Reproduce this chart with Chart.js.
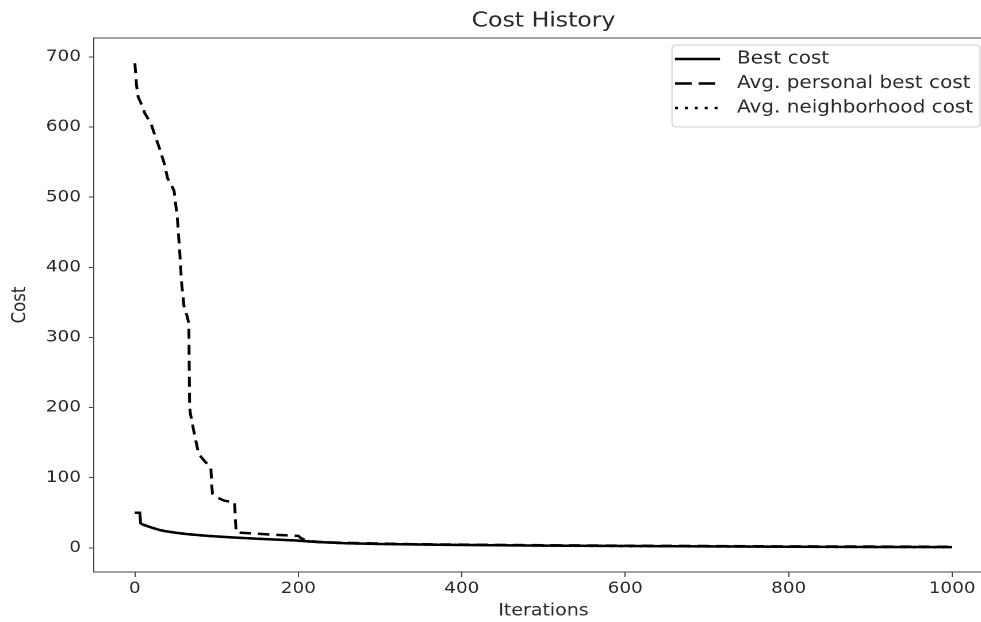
<!DOCTYPE html>
<html><head><meta charset="utf-8">
<script src="https://cdn.jsdelivr.net/npm/chart.js@4/dist/chart.umd.min.js"></script>
<style>
html,body{margin:0;padding:0;background:#fff;overflow:hidden;width:981px;height:622px;}
#wrap{position:absolute;left:0;top:0;width:870px;height:622px;transform:scaleX(1.15);transform-origin:0 0;}
</style></head><body>
<div id="wrap"><canvas id="c" width="870" height="622"></canvas></div>
<script>
const titleText = 'Cost History';
const xLabel = 'Iterations';
const yLabel = 'Cost';
const seriesNames = ['Best cost', 'Avg. personal best cost', 'Avg. neighborhood cost'];
const xTicks = [0, 200, 400, 600, 800, 1000];
const yTicks = [0, 100, 200, 300, 400, 500, 600, 700];

const bestIter = [0, 6, 7, 10, 15, 20, 30, 36, 50, 64, 89, 121, 150, 197, 220, 258, 300, 386, 500, 600, 700, 800, 900, 1000];
const bestCost = [50, 50, 35, 33, 31, 29, 25.5, 24, 21.5, 19.5, 17, 14.7, 13, 10.5, 8.5, 6.5, 5.5, 4.2, 3.2, 2.5, 2, 1.5, 1.2, 1];

const pbestIter = [0, 2, 4, 9, 12, 20, 24, 30, 36, 40, 46, 48, 52, 55, 57, 60, 64, 66, 67, 68, 72, 78, 85, 90, 93, 94, 95, 100, 110, 122, 123, 124, 150, 180, 200, 203, 210, 230, 260, 300, 350, 400, 500, 600, 700, 800, 900, 1000];
const pbestCost = [691, 660, 643, 630, 620, 604, 590, 570, 548, 527, 514, 509, 470, 420, 380, 345, 330, 320, 200, 191, 167, 134, 124, 118, 114, 90, 77, 72, 67, 65, 40, 22, 20, 18, 17, 14, 10, 8, 7, 6, 5, 4.5, 3.7, 3, 2.5, 2, 1.8, 1.5];

const nbIter = [0, 6, 7, 10, 15, 20, 30, 36, 50, 64, 89, 121, 150, 197, 220, 258, 300, 386, 500, 600, 700, 800, 900, 1000];
const nbCost = [50, 50, 35, 33, 31, 29, 25.5, 24, 21.5, 19.5, 17, 14.7, 13, 10.5, 8.5, 6.5, 5.5, 4.2, 3.2, 2.5, 2, 1.5, 1.2, 1];

const S = 1.15; // horizontal stretch of the reference image
const FONT = '"DejaVu Sans", sans-serif';
const TXT = '#2a2a2a';
const AX = '#444';
const lineW = 2.5;
const dashMain = [10, 6];
const dotMain = [2.5, 6];

function pts(xs, ys) { return xs.map((x, i) => ({ x: x, y: ys[i] })); }

const framePlugin = {
  id: 'frame',
  afterDraw(chart) {
    const { ctx, chartArea: a } = chart;
    ctx.save();
    ctx.strokeStyle = AX; ctx.lineWidth = 1;
    ctx.beginPath();
    ctx.moveTo(a.left, a.top); ctx.lineTo(a.right, a.top); ctx.lineTo(a.right, a.bottom);
    ctx.stroke();
    // title
    ctx.fillStyle = TXT;
    ctx.font = '20.5px ' + FONT;
    ctx.textAlign = 'center'; ctx.textBaseline = 'middle';
    ctx.fillText(titleText, (a.left + a.right) / 2, 21);
    ctx.restore();
  }
};

const legendPlugin = {
  id: 'customLegend',
  afterDraw(chart) {
    const { ctx } = chart;
    const x0 = 672 / S, x1 = 980 / S, y0 = 45, y1 = 127;
    ctx.save();
    ctx.beginPath();
    ctx.roundRect(x0, y0, x1 - x0, y1 - y0, 3);
    ctx.fillStyle = 'rgba(255,255,255,0.85)';
    ctx.fill();
    ctx.strokeStyle = '#d0d0d0'; ctx.lineWidth = 1;
    ctx.stroke();
    const rows = [59, 83.5, 108];
    const dashes = [[], [14.5, 6], [2.6, 6]];
    const sx0 = 675 / S, sx1 = 720 / S, tx = 737 / S;
    ctx.font = '17.4px ' + FONT;
    ctx.textAlign = 'left'; ctx.textBaseline = 'middle';
    rows.forEach((ry, i) => {
      ctx.beginPath();
      ctx.setLineDash(dashes[i]);
      ctx.strokeStyle = '#000'; ctx.lineWidth = lineW; ctx.lineCap = 'butt';
      ctx.moveTo(sx0, ry); ctx.lineTo(sx1, ry);
      ctx.stroke();
      ctx.setLineDash([]);
      ctx.fillStyle = TXT;
      ctx.fillText(seriesNames[i], tx, ry);
    });
    ctx.restore();
  }
};

new Chart(document.getElementById('c'), {
  type: 'line',
  data: {
    datasets: [
      { label: seriesNames[0], data: pts(bestIter, bestCost), borderColor: '#000', borderWidth: lineW, pointRadius: 0, fill: false, tension: 0 },
      { label: seriesNames[1], data: pts(pbestIter, pbestCost), borderColor: '#000', borderWidth: lineW, borderDash: dashMain, pointRadius: 0, fill: false, tension: 0 },
      { label: seriesNames[2], data: pts(nbIter, nbCost), borderColor: '#000', borderWidth: lineW, borderDash: dotMain, pointRadius: 0, fill: false, tension: 0 }
    ]
  },
  options: {
    responsive: false,
    animation: false,
    devicePixelRatio: 2,
    layout: { padding: { top: 38, right: 870 - 993 / S, left: 0, bottom: 0 } },
    plugins: { legend: { display: false }, title: { display: false }, tooltip: { enabled: false } },
    scales: {
      x: {
        type: 'linear', min: -50, max: 1050,
        afterBuildTicks: s => { s.ticks = xTicks.map(v => ({ value: v })); },
        afterFit: s => { s.height = 50; },
        ticks: { color: TXT, font: { family: FONT, size: 16 }, padding: 2, maxRotation: 0, autoSkip: false, callback: v => String(v) },
        grid: { display: true, drawOnChartArea: false, drawTicks: true, tickLength: 5, color: AX, lineWidth: 1 },
        border: { display: true, color: AX, width: 1 },
        title: { display: true, text: xLabel, color: TXT, font: { family: FONT, size: 16.5 }, padding: { top: 0, bottom: 1 } }
      },
      y: {
        type: 'linear', min: -34.5, max: 727,
        afterBuildTicks: s => { s.ticks = yTicks.map(v => ({ value: v })); },
        afterFit: s => { s.width = 94 / S; },
        ticks: { color: TXT, font: { family: FONT, size: 16 }, padding: 7, autoSkip: false, callback: v => String(v) },
        grid: { display: true, drawOnChartArea: false, drawTicks: true, tickLength: 5 / S, color: AX, lineWidth: 1 },
        border: { display: true, color: AX, width: 1 },
        title: { display: true, text: yLabel, color: TXT, font: { family: FONT, size: 16.5 }, padding: { top: 8, bottom: 0 } }
      }
    }
  },
  plugins: [framePlugin, legendPlugin]
});
</script>
</body></html>
